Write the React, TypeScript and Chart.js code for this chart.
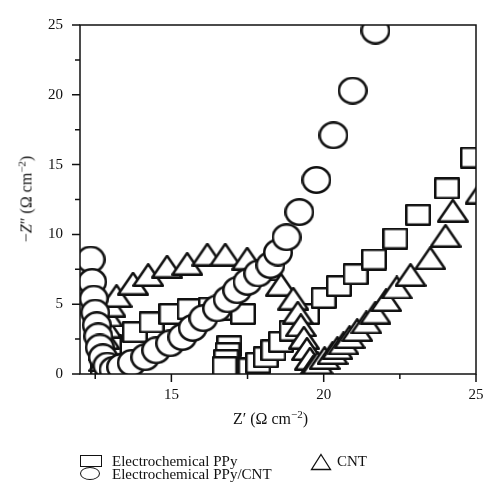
import React, { useEffect, useRef } from "react";
import { Chart, registerables } from "chart.js";

Chart.register(...registerables);

// ---------- data ----------
const seriesNames = ["Electrochemical PPy", "Electrochemical PPy/CNT", "CNT"];

// Electrochemical PPy (open squares)
const ppyX = [12.75, 12.8, 12.85, 12.95, 13.8, 14.35, 15.0, 15.6, 16.3, 16.85, 17.35, 16.9, 16.85, 16.8, 16.75, 17.6, 17.85, 18.1, 18.35, 18.6, 18.95, 19.45, 20.0, 20.5, 21.05, 21.65, 22.35, 23.1, 24.05, 24.9];
const ppyY = [0.3, 0.9, 1.5, 2.1, 3.0, 3.7, 4.3, 4.65, 4.75, 4.6, 4.3, 2.0, 1.5, 1.0, 0.5, 0.4, 0.8, 1.2, 1.7, 2.3, 3.1, 4.3, 5.45, 6.3, 7.15, 8.2, 9.7, 11.4, 13.3, 15.5];

// Electrochemical PPy/CNT (open circles)
const ppyCntX = [12.35, 12.4, 12.45, 12.5, 12.55, 12.6, 12.65, 12.75, 12.9, 13.1, 13.35, 13.7, 14.14, 14.5, 14.96, 15.36, 15.7, 16.05, 16.5, 16.85, 17.16, 17.5, 17.85, 18.25, 18.5, 18.78, 19.2, 19.76, 20.32, 20.95, 21.7];
const ppyCntY = [8.2, 6.6, 5.4, 4.4, 3.5, 2.7, 1.9, 1.2, 0.6, 0.3, 0.5, 0.8, 1.2, 1.7, 2.2, 2.65, 3.3, 4.0, 4.7, 5.35, 6.0, 6.6, 7.2, 7.8, 8.7, 9.8, 11.6, 13.9, 17.1, 20.3, 24.6];

// CNT (open triangles)
const cntX = [12.85, 12.8, 12.78, 12.8, 12.85, 12.9, 13.0, 13.2, 13.74, 14.24, 14.86, 15.52, 16.18, 16.77, 17.49, 18.1, 18.6, 19.0, 19.15, 19.25, 19.35, 19.45, 19.55, 19.65, 19.8, 20.03, 20.29, 20.45, 20.65, 20.85, 21.1, 21.4, 21.7, 22.05, 22.4, 22.85, 23.5, 24.0, 24.24, 25.15];
const cntY = [0.3, 1.0, 1.8, 2.6, 3.4, 4.2, 4.9, 5.6, 6.48, 7.1, 7.7, 7.9, 8.56, 8.56, 8.27, 7.5, 6.4, 5.4, 4.4, 3.5, 2.6, 1.8, 1.1, 0.5, 0.8, 1.15, 1.5, 1.86, 2.2, 2.65, 3.15, 3.7, 4.4, 5.3, 6.2, 7.1, 8.3, 9.9, 11.7, 13.0];

// axes
const xRange = [12, 25];
const yRange = [0, 25];
const tickStep = 2.5;
const labelStep = 5;

const FONT = '"Liberation Serif", "Times New Roman", "DejaVu Serif", serif';
const INK = "#111";

type Kind = "rect" | "ellipse" | "triangle";

function makeMarker(kind: Kind, w: number, h: number, lw: number) {
  const c = document.createElement("canvas");
  c.width = w;
  c.height = h;
  const g = c.getContext("2d")!;
  g.lineWidth = lw;
  g.strokeStyle = INK;
  g.fillStyle = "#fff";
  g.lineJoin = "round";
  const p = lw / 2;
  g.beginPath();
  if (kind === "rect") g.rect(p, p, w - lw, h - lw);
  else if (kind === "ellipse") g.ellipse(w / 2, h / 2, w / 2 - p, h / 2 - p, 0, 0, Math.PI * 2);
  else {
    g.moveTo(w / 2, p);
    g.lineTo(w - p, h - p);
    g.lineTo(p, h - p);
    g.closePath();
  }
  g.fill();
  g.stroke();
  return c;
}

const toPoints = (xs: number[], ys: number[]) => xs.map((x, i) => ({ x, y: ys[i] }));

const framePlugin = {
  id: "frame",
  afterDraw(chart: any) {
    const { ctx, chartArea: a, scales } = chart;
    const x = scales.x;
    const y = scales.y;
    ctx.save();
    ctx.strokeStyle = INK;
    ctx.lineWidth = 1.5;
    ctx.strokeRect(a.left, a.top, a.right - a.left, a.bottom - a.top);
    ctx.beginPath();
    x.ticks.forEach((t: any) => {
      const px = x.getPixelForValue(t.value);
      const len = Math.abs(t.value % labelStep) < 1e-6 ? 8 : 5;
      ctx.moveTo(px, a.bottom);
      ctx.lineTo(px, a.bottom + len);
    });
    y.ticks.forEach((t: any) => {
      const py = y.getPixelForValue(t.value);
      const len = Math.abs(t.value % labelStep) < 1e-6 ? 8 : 5;
      ctx.moveTo(a.left, py);
      ctx.lineTo(a.left - len, py);
    });
    ctx.stroke();
    ctx.restore();
  },
};

export default function App() {
  const ref = useRef<HTMLCanvasElement | null>(null);

  useEffect(() => {
    if (!ref.current) return;
    const sq = makeMarker("rect", 26, 22, 2.5);
    const ci = makeMarker("ellipse", 30, 28, 2.5);
    const tr = makeMarker("triangle", 32, 24, 2.5);

    const common = {
      showLine: false,
      radius: 15,
      hoverRadius: 15,
      borderWidth: 0,
      clip: 0,
    };

    const tickFont = { family: FONT, size: 15 };
    const labelCb = (v: any) => (Math.abs(Number(v) % labelStep) < 1e-6 ? String(v) : "");
    const grid = {
      display: true,
      drawOnChartArea: false,
      drawTicks: true,
      tickLength: 8,
      color: "rgba(0,0,0,0)",
    };

    const chart = new Chart(ref.current, {
      type: "scatter",
      data: {
        datasets: [
          { ...common, label: seriesNames[1], data: toPoints(ppyCntX, ppyCntY), pointStyle: ci, order: 0 },
          { ...common, label: seriesNames[2], data: toPoints(cntX, cntY), pointStyle: tr, order: 1 },
          { ...common, label: seriesNames[0], data: toPoints(ppyX, ppyY), pointStyle: sq, order: 2 },
        ] as any,
      },
      options: {
        responsive: false,
        animation: false,
        events: [],
        layout: { padding: { top: 25, right: 24, bottom: 94, left: 0 } },
        plugins: { legend: { display: false }, tooltip: { enabled: false } },
        scales: {
          x: {
            type: "linear",
            min: xRange[0],
            max: xRange[1],
            grid,
            border: { display: false },
            ticks: {
              stepSize: tickStep,
              includeBounds: false,
              autoSkip: false,
              maxRotation: 0,
              callback: labelCb,
              font: tickFont,
              color: INK,
              padding: 4,
            },
            afterFit: (s: any) => {
              s.height = 30;
            },
          },
          y: {
            type: "linear",
            min: yRange[0],
            max: yRange[1],
            grid,
            border: { display: false },
            ticks: {
              stepSize: tickStep,
              includeBounds: false,
              autoSkip: false,
              callback: labelCb,
              font: tickFont,
              color: INK,
              padding: 9,
            },
            afterFit: (s: any) => {
              s.width = 80;
            },
          },
        },
      } as any,
      plugins: [framePlugin],
    });
    return () => chart.destroy();
  }, []);

  const txt: React.CSSProperties = {
    position: "absolute",
    fontSize: 16,
    lineHeight: "16px",
    whiteSpace: "nowrap",
  };
  const leg: React.CSSProperties = {
    position: "absolute",
    fontSize: 15,
    lineHeight: "15px",
    whiteSpace: "nowrap",
  };
  const sup: React.CSSProperties = { fontSize: 11, verticalAlign: 0, position: "relative", top: -6 };

  return (
    <div
      style={{
        position: "fixed",
        left: 0,
        top: 0,
        width: 500,
        height: 498,
        background: "#fff",
        fontFamily: FONT,
        color: INK,
        overflow: "hidden",
      }}
    >
      <canvas ref={ref} width={500} height={498} style={{ position: "absolute", left: 0, top: 0 }} />

      {/* y-axis title */}
      <div
        style={{
          ...txt,
          left: 27,
          top: 199,
          transform: "translate(-50%, -50%) rotate(-90deg)",
        }}
      >
        −<i>Z</i>″ (Ω cm<sup style={sup}>−2</sup>)
      </div>

      {/* x-axis title */}
      <div style={{ ...txt, left: 233, top: 411 }}>
        Z′ (Ω cm<sup style={sup}>−2</sup>)
      </div>

      {/* legend */}
      <div
        style={{
          position: "absolute",
          left: 80,
          top: 455,
          width: 22,
          height: 12,
          border: `1.3px solid ${INK}`,
          boxSizing: "border-box",
        }}
      />
      <div style={{ ...leg, left: 112, top: 453.5 }}>{seriesNames[0]}</div>
      <div
        style={{
          position: "absolute",
          left: 80,
          top: 467,
          width: 20,
          height: 13,
          border: `1.3px solid ${INK}`,
          borderRadius: "50%",
          boxSizing: "border-box",
        }}
      />
      <div style={{ ...leg, left: 112, top: 466.5 }}>{seriesNames[1]}</div>
      <svg style={{ position: "absolute", left: 310, top: 453 }} width={22} height={18}>
        <polygon points="11,1.5 20.5,16.5 1.5,16.5" fill="none" stroke={INK} strokeWidth={1.3} />
      </svg>
      <div style={{ ...leg, left: 337, top: 453.5 }}>{seriesNames[2]}</div>
    </div>
  );
}
